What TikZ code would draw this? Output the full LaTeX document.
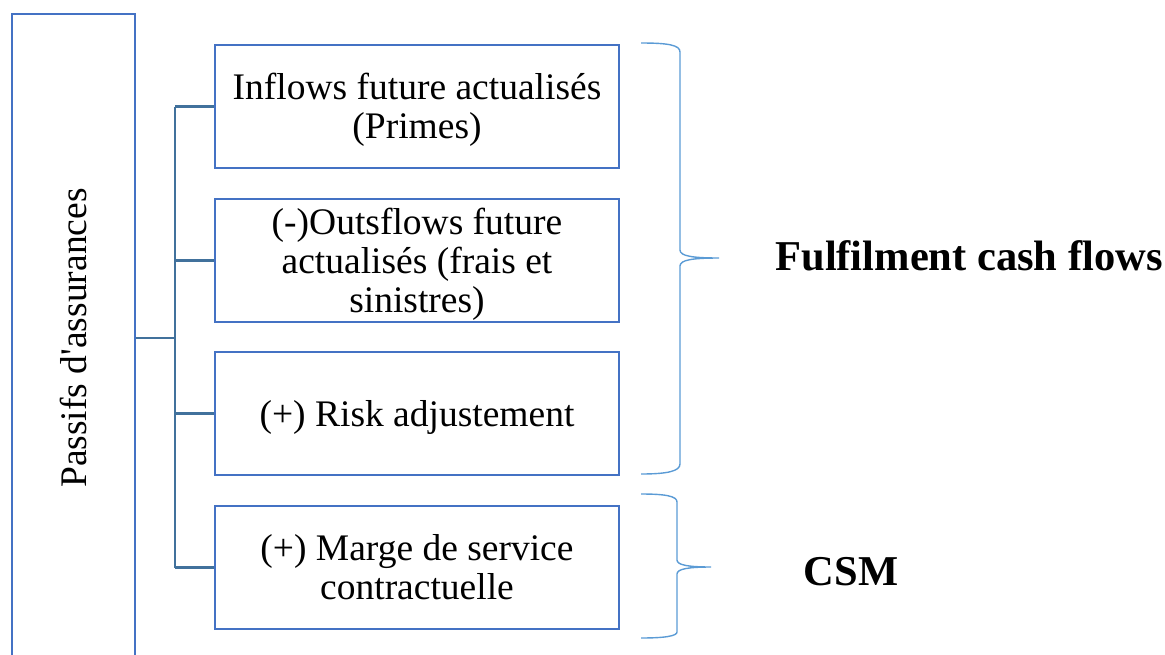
\documentclass[tikz,border=0pt]{standalone}
\usepackage{fontspec}
\setmainfont{Liberation Serif}
\usepackage{graphicx}
\definecolor{boxblue}{HTML}{4472C4}
\definecolor{linkblue}{HTML}{41719C}
\definecolor{braceblue}{HTML}{5B9BD5}
\newcommand{\boxfont}{\fontsize{37.5}{39}\selectfont}
% centred lines with a fixed line pitch, drawn a little below the box centre
\newcommand{\lines}[1]{\raisebox{-5pt}[\height][\depth]{\begin{tabular}{@{}c@{}}#1\end{tabular}}}
\begin{document}
\begin{tikzpicture}[x=1pt,y=-1pt,
  itembox/.style={draw=boxblue, line width=2.6pt, minimum width=404pt, minimum height=123pt,
    inner sep=2pt, font=\boxfont},
  conn/.style={draw=linkblue, line width=2.2pt},
  bracepath/.style={draw=braceblue, line width=1.4pt},
  sumlabel/.style={font=\fontsize{42.5}{44}\selectfont\bfseries}]
\useasboundingbox (0,0) rectangle (1165,654);
\clip (0,0) rectangle (1165,654);

% liabilities column, open at the bottom edge
\node[draw=boxblue, line width=2.6pt, minimum width=123pt, minimum height=648pt, inner sep=0pt,
  font=\boxfont] (passifs) at (73.5,338)
  {\rotatebox{90}{Passifs d\textquotesingle assurances}};

% components
\node[itembox] (b1) at (417,106.5) {\lines{Inflows future actualisés\\(Primes)}};
\node[itembox] (b2) at (417,260.5) {\lines{(-)Outsflows future\\actualisés (frais et\\sinistres)}};
\node[itembox] (b3) at (417,413.5) {\lines{(+) Risk adjustement}};
\node[itembox] (b4) at (417,567.5) {\lines{(+) Marge de service\\contractuelle}};

% tree connectors
\coordinate (hub) at (175,338);
\draw[conn] (passifs.east) -- (hub);
\draw[conn] (hub |- b1.west) -- (hub |- b4.west);
\draw[conn] (hub |- b1.west) -- (b1.west);
\draw[conn] (hub |- b2.west) -- (b2.west);
\draw[conn] (hub |- b3.west) -- (b3.west);
\draw[conn] (hub |- b4.west) -- (b4.west);

% braces
\draw[bracepath] (641,43) .. controls (668,43) and (680,45) .. (680,52)
  -- (680,250) .. controls (680,256) and (692,258) .. (719,258)
  .. controls (692,258) and (680,260) .. (680,266)
  -- (680,464) .. controls (680,471) and (668,474) .. (641,474);
\draw[bracepath] (641,494) .. controls (665,494) and (677,496) .. (677,502)
  -- (677,560) .. controls (677,565) and (688,567) .. (711,567)
  .. controls (688,567) and (677,569) .. (677,574)
  -- (677,632) .. controls (677,636) and (665,638) .. (641,638);

% totals
\node[sumlabel] (fcf) at (969,256) {Fulfilment cash flows};
\node[sumlabel] (csm) at (851,572) {CSM};
\end{tikzpicture}
\end{document}
